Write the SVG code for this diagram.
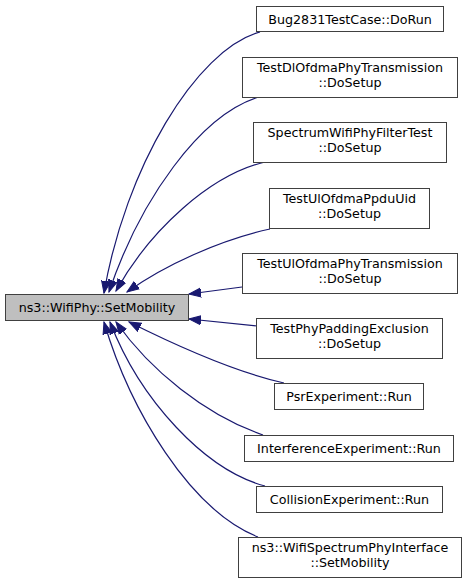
<svg xmlns="http://www.w3.org/2000/svg" width="467" height="583" viewBox="0 0 467 583">
<style>
.n rect{fill:#ffffff;stroke:#404040;stroke-width:1}
.n.main rect{fill:#bfbfbf}
.n text{font-family:"DejaVu Sans","Liberation Sans",sans-serif;font-size:12.7px;fill:#000;text-anchor:middle}
.e path{fill:none;stroke:#191970;stroke-width:1.2}
</style>
<defs>
<marker id="ah" markerUnits="userSpaceOnUse" markerWidth="14" markerHeight="12" viewBox="0 -6 14 12" refX="12" refY="0" orient="auto">
<path d="M0,-4.5 L12,0 L0,4.5 z" fill="#191970" stroke="#191970"/>
</marker>
</defs>
<g class="e" id="edges">
<path marker-end="url(#ah)" d="M260,32 C195,50 125,170 104,293"/>
<path marker-end="url(#ah)" d="M259,97 C200,115 140,200 109,292"/>
<path marker-end="url(#ah)" d="M265,162 C210,175 150,230 116,291"/>
<path marker-end="url(#ah)" d="M270,229 C220,240 165,265 127,292"/>
<path marker-end="url(#ah)" d="M242,287 L189,294"/>
<path marker-end="url(#ah)" d="M257,326 L189,319"/>
<path marker-end="url(#ah)" d="M284,383 C235,372 175,345 129,322"/>
<path marker-end="url(#ah)" d="M263,435 C205,415 150,370 116,322"/>
<path marker-end="url(#ah)" d="M265,486 C205,470 140,400 110,322"/>
<path marker-end="url(#ah)" d="M258,537 C190,510 130,410 104,322"/>
</g>
<g class="n main" id="node_main"><rect x="5.5" y="294.5" width="183" height="26"/><text x="97" y="312">ns3::WifiPhy::SetMobility</text></g>
<g class="n" id="node1"><rect x="256.5" y="6.5" width="187" height="25"/><text x="350" y="24">Bug2831TestCase::DoRun</text></g>
<g class="n" id="node2"><rect x="242.5" y="57.5" width="215" height="40"/><text x="350" y="72">TestDlOfdmaPhyTransmission</text><text x="350" y="86.5">::DoSetup</text></g>
<g class="n" id="node3"><rect x="253.5" y="122.5" width="193" height="40"/><text x="350" y="137">SpectrumWifiPhyFilterTest</text><text x="350" y="151.5">::DoSetup</text></g>
<g class="n" id="node4"><rect x="269.5" y="188.5" width="160" height="40"/><text x="349.5" y="203">TestUlOfdmaPpduUid</text><text x="349.5" y="217.5">::DoSetup</text></g>
<g class="n" id="node5"><rect x="242.5" y="253.5" width="215" height="40"/><text x="350" y="268">TestUlOfdmaPhyTransmission</text><text x="350" y="282.5">::DoSetup</text></g>
<g class="n" id="node6"><rect x="256.5" y="318.5" width="186" height="40"/><text x="349.5" y="333">TestPhyPaddingExclusion</text><text x="349.5" y="347.5">::DoSetup</text></g>
<g class="n" id="node7"><rect x="274.5" y="383.5" width="149" height="26"/><text x="349" y="401">PsrExperiment::Run</text></g>
<g class="n" id="node8"><rect x="244.5" y="435.5" width="209" height="26"/><text x="349" y="453">InterferenceExperiment::Run</text></g>
<g class="n" id="node9"><rect x="256.5" y="486.5" width="186" height="26"/><text x="349.5" y="504">CollisionExperiment::Run</text></g>
<g class="n" id="node10"><rect x="238.5" y="537.5" width="223" height="40"/><text x="350" y="552">ns3::WifiSpectrumPhyInterface</text><text x="350" y="566.5">::SetMobility</text></g>
</svg>
